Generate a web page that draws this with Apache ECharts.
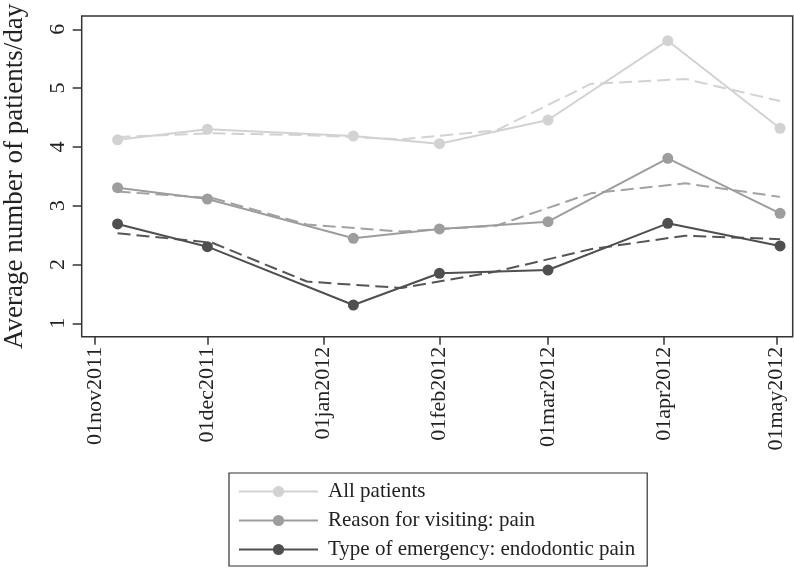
<!DOCTYPE html>
<html><head><meta charset="utf-8">
<script src="https://cdn.jsdelivr.net/npm/echarts@6/dist/echarts.min.js"></script>
<style>html,body{margin:0;padding:0;background:#fff}#c{width:794px;height:569px}</style>
</head><body><div id="c"></div>
<script>
// ---- data ----
const pointDates = ['2011-11-07','2011-12-01','2012-01-09','2012-02-01','2012-03-01','2012-04-02','2012-05-02'];
const allPatients = [4.12, 4.30, 4.185, 4.055, 4.457, 5.806, 4.316];
const painPatients = [3.306, 3.114, 2.446, 2.604, 2.728, 3.806, 2.871];
const endoPatients = [2.689, 2.303, 1.311, 1.850, 1.906, 2.700, 2.315];
const trendDates = ['2011-11-07T00:00','2011-12-02T07:00','2011-12-27T14:00','2012-01-21T21:00','2012-02-16T03:00','2012-03-12T10:00','2012-04-06T17:00','2012-05-02T00:00'];
const allTrend = [4.17, 4.23, 4.20, 4.13, 4.28, 5.07, 5.155, 4.78];
const painTrend = [3.24, 3.13, 2.68, 2.56, 2.66, 3.21, 3.38, 3.15];
const endoTrend = [2.53, 2.37, 1.71, 1.60, 1.88, 2.26, 2.49, 2.43];
const tickDates = ['2011-11-01','2011-12-01','2012-01-01','2012-02-01','2012-03-01','2012-04-01','2012-05-01'];
const yTicks = [1, 2, 3, 4, 5, 6];
const seriesNames = ['All patients', 'Reason for visiting: pain', 'Type of emergency: endodontic pain'];
const xRange = ['2011-10-28T10:00', '2012-05-05T09:00'];
const yRange = [0.772, 6.226];

// ---- helpers ----
function toMs(s) { return Date.parse(s.length === 10 ? s + 'T00:00:00Z' : s + ':00Z'); }
const monthNames = ['jan','feb','mar','apr','may','jun','jul','aug','sep','oct','nov','dec'];
function fmtDate(v) {
  const d = new Date(v);
  const dd = String(d.getUTCDate()).padStart(2, '0');
  return dd + monthNames[d.getUTCMonth()] + d.getUTCFullYear();
}
function pairs(dates, vals) { return dates.map((d, i) => [toMs(d), vals[i]]); }

const FONT = 'Liberation Serif';
const colors = ['#d2d2d2', '#9d9d9d', '#4f4f4f'];
const trendColors = ['#d2d2d2', '#a2a2a2', '#555555'];

function solid(name, vals, c) {
  return { name: name, type: 'line', data: pairs(pointDates, vals), symbol: 'circle', symbolSize: 11,
    color: c, lineStyle: { color: c, width: 2 }, itemStyle: { color: c }, z: 3 };
}
function dashed(name, vals, c) {
  return { name: name, type: 'line', data: pairs(trendDates, vals), symbol: 'none',
    color: c, lineStyle: { color: c, width: 2, type: [13, 6] }, z: 2 };
}

const chart = echarts.init(document.getElementById('c'), null, { renderer: 'canvas' });
chart.setOption({
  animation: false,
  backgroundColor: '#fff',
  grid: { left: 81.7, right: 1.3, top: 16, bottom: 232.3, show: true, borderColor: '#333', borderWidth: 1.5,
          backgroundColor: 'transparent', outerBoundsMode: 'none' },
  xAxis: {
    type: 'value', min: toMs(xRange[0]), max: toMs(xRange[1]),
    axisLine: { show: false }, splitLine: { show: false },
    axisTick: { show: true, length: 8, lineStyle: { color: '#333', width: 1.5 }, customValues: tickDates.map(toMs) },
    axisLabel: { rotate: 90, margin: 10, fontFamily: FONT, fontSize: 22, color: '#222', formatter: fmtDate,
                 customValues: tickDates.map(toMs) }
  },
  yAxis: {
    type: 'value', min: yRange[0], max: yRange[1],
    name: 'Average number of patients/day', nameLocation: 'middle', nameGap: 53,
    nameTextStyle: { fontFamily: FONT, fontSize: 27, color: '#222' },
    axisLine: { show: false }, splitLine: { show: false },
    axisTick: { show: true, length: 9, lineStyle: { color: '#333', width: 1.5 }, customValues: yTicks },
    axisLabel: { rotate: 90, margin: 12, fontFamily: FONT, fontSize: 22, color: '#222', customValues: yTicks }
  },
  legend: {
    data: seriesNames, orient: 'vertical', left: 229, top: 473,
    itemWidth: 79, itemHeight: 14, itemGap: 8, padding: [8, 12, 6, 9],
    borderColor: '#333', borderWidth: 1.2,
    textStyle: { fontFamily: FONT, fontSize: 21, color: '#222', padding: [0, 0, 0, 5] }
  },
  series: [
    dashed('trend1', allTrend, trendColors[0]),
    dashed('trend2', painTrend, trendColors[1]),
    dashed('trend3', endoTrend, trendColors[2]),
    solid(seriesNames[0], allPatients, colors[0]),
    solid(seriesNames[1], painPatients, colors[1]),
    solid(seriesNames[2], endoPatients, colors[2])
  ]
});
</script></body></html>
